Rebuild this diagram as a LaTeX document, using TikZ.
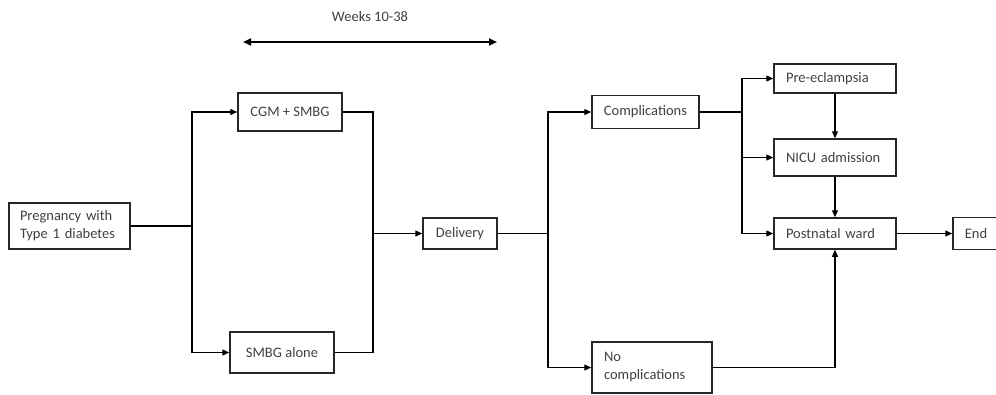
\documentclass[tikz,border=0pt]{standalone}
\usepackage{fontspec}
\setmainfont{Carlito}
\usetikzlibrary{arrows.meta}
\begin{document}
\begin{tikzpicture}[x=1pt,y=-1pt,
  box/.style={draw=black!85,line width=1.5pt,rectangle,inner sep=0pt,text=black!75,font=\fontsize{14.5}{18}\selectfont},
  lbox/.style={box,align=left,inner xsep=11pt},
  conn/.style={draw=black,line width=1.3pt},
  arr/.style={conn,-{Triangle[length=7pt,width=6pt]}}]
\useasboundingbox (0,0) rectangle (996,394);
% nodes
\node[lbox,text width=99pt,minimum height=46pt] (preg) at (69.5,226) {Pregnancy with\\Type 1 diabetes};
\node[box,minimum width=104pt,minimum height=38pt] (cgm) at (290,112) {CGM + SMBG};
\node[box,minimum width=104pt,minimum height=41pt] (smbg) at (282,352.5) {SMBG alone};
\node[box,minimum width=74pt,minimum height=31pt] (deliv) at (460,233.5) {Delivery};
\node[box,minimum width=107pt,minimum height=33pt] (comp) at (645.5,112) {Complications};
\node[lbox,inner xsep=12pt,text width=96pt,minimum height=51pt] (nocomp) at (652,367.5) {No\\complications};
\node[lbox,inner xsep=12pt,text width=98pt,minimum height=29pt] (pre) at (835,78.5) {Pre-eclampsia};
\node[lbox,inner xsep=12pt,text width=98pt,minimum height=37pt] (nicu) at (835,157.5) {NICU admission};
\node[lbox,inner xsep=12pt,text width=98pt,minimum height=31pt] (post) at (835,233.5) {Postnatal ward};
\node[box,minimum width=46pt,minimum height=32pt] (end) at (976,233.5) {End};
\node[text=black!75,font=\fontsize{14.5}{18}\selectfont] (weeks) at (370,17) {Weeks 10-38};
% junctions
\coordinate (jL) at (192,226);
\coordinate (jR) at (373,233.5);
\coordinate (jD) at (548,233.5);
\coordinate (jC) at (742,112);
\coordinate (wa) at (243,42);
\coordinate (wb) at (497,42);
% connectors
\draw[conn] (preg.east) -- (jL);
\draw[arr] (jL) |- (cgm.west);
\draw[arr] (jL) |- (smbg.west);
\draw[conn] (cgm.east) -| (jR);
\draw[conn] (smbg.east) -| (jR);
\draw[arr] (jR) -- (deliv.west);
\draw[conn] (deliv.east) -- (jD);
\draw[arr] (jD) |- (comp.west);
\draw[arr] (jD) |- (nocomp.west);
\draw[conn] (comp.east) -- (jC);
\draw[arr] (jC) |- (pre.west);
\draw[arr] (jC) |- (nicu.west);
\draw[arr] (jC) |- (post.west);
\draw[arr] (pre.south) -- (nicu.north);
\draw[arr] (nicu.south) -- (post.north);
\draw[arr] (nocomp.east) -| (post.south);
\draw[arr] (post.east) -- (end.west);
\draw[line width=2.4pt,{Triangle[length=8pt,width=7pt]}-{Triangle[length=8pt,width=7pt]}] (wa) -- (wb);
\end{tikzpicture}
\end{document}
